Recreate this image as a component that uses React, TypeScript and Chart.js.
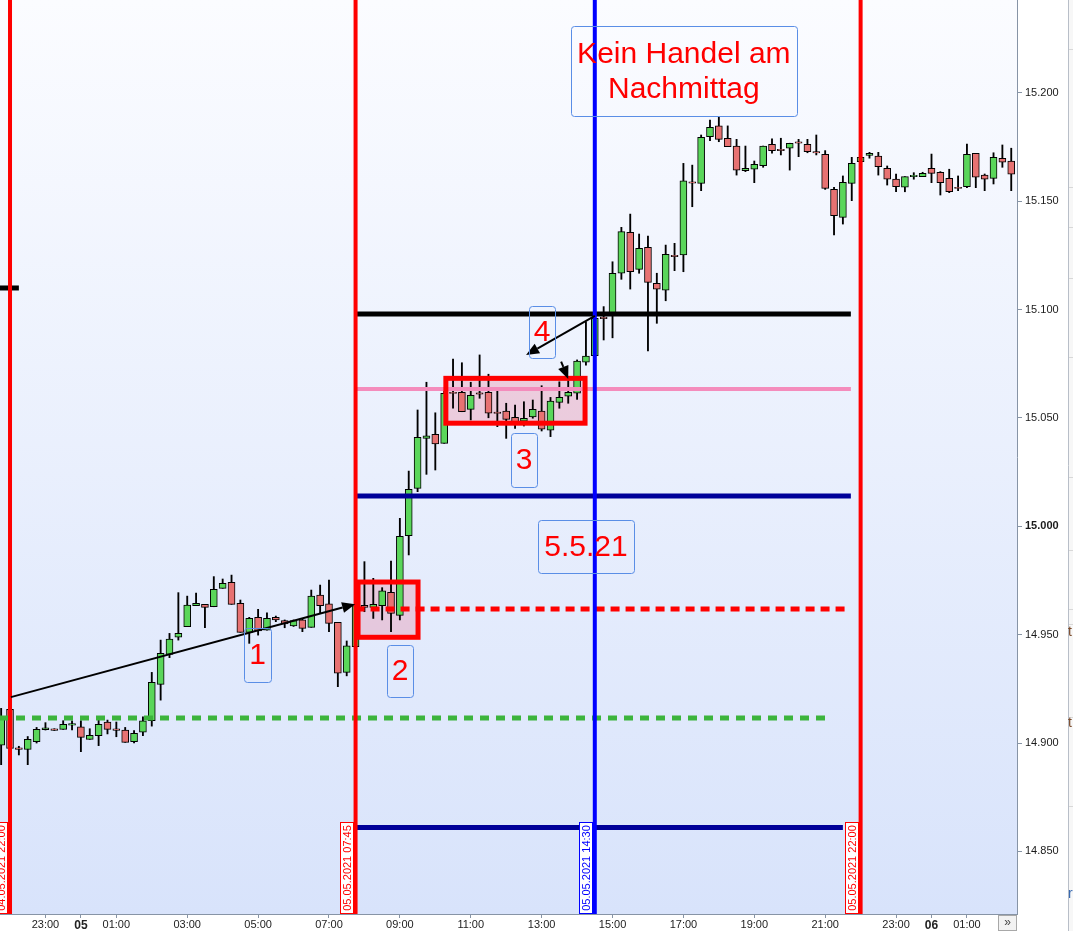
import React, { useEffect, useRef } from 'react';
import { Chart, registerables } from 'chart.js';

Chart.register(...registerables);

// 15-minute bars; bar index 0 = 04.05.2021 22:00, first bar shown is 21:45
const FIRST_BAR = -1;

const opens = [
  14899, 14915.5, 14897.8, 14897, 14900.6, 14906.2, 14906.6, 14906.3, 14908.2, 14907.5,
  14901.7, 14903.4, 14909.7, 14906.6, 14906, 14900.6, 14905, 14910.3, 14927.1, 14940.9,
  14948.8, 14953.7, 14963.4, 14964, 14962.9, 14971.4, 14974.2, 14964.5, 14951.1, 14958,
  14952.1, 14958, 14956.5, 14954, 14956.8, 14953.4, 14968.3, 14964.2, 14955.7, 14932.6,
  14944.5, 14963.6, 14962.6, 14963.4, 14969.6, 14958.9, 14995.7, 15017.5, 15040.6, 15042.5,
  15038.3, 15061.9, 15061.8, 15054, 15061.6, 15061.8, 15052.7, 15053.2, 15050.3, 15048.5,
  15050.5, 15053.2, 15044.4, 15057.2, 15060.1, 15061.4, 15075.8, 15078.8, 15096.6, 15098.3,
  15116.8, 15135.7, 15118.6, 15128.8, 15112.2, 15109, 15125.1, 15125.2, 15159, 15158.3,
  15179.8, 15184.8, 15179.1, 15175.5, 15164.1, 15164.8, 15166.4, 15176.3, 15174, 15174.5,
  15177.4, 15176.3, 15172.9, 15171.7, 15155.5, 15142.6, 15158.3, 15168.3, 15171.2, 15170.9,
  15165.2, 15160.2, 15156.5, 15161.4, 15161.4, 15165.2, 15163.4, 15160.6, 15156.5, 15156.7,
  15172.1, 15162.1, 15160.6, 15169.8, 15168.6,
];

const highs = [
  14916, 14918, 14898.5, 14903, 14907.2, 14909.4, 14906.6, 14910.3, 14910.3, 14910.3,
  14906.6, 14910.6, 14910.6, 14909.7, 14907.2, 14905.7, 14912.1, 14932.6, 14947.5, 14950.6,
  14969.4, 14967.8, 14969.2, 14964, 14976.8, 14975.7, 14977.5, 14966, 14958, 14961.7,
  14960.1, 14958.6, 14956.8, 14956.8, 14957.5, 14970.6, 14972.9, 14975.2, 14955.7, 14947.1,
  14964, 14983.7, 14976, 14971.7, 14984, 15003.7, 15025.5, 15053.7, 15066.5, 15052.4,
  15062.9, 15077.2, 15075.5, 15066.5, 15079.1, 15070.2, 15062.9, 15056.8, 15056, 15057.5,
  15058.3, 15064.9, 15059.5, 15066.7, 15067.2, 15076.8, 15094.4, 15097, 15101.4, 15122.1,
  15138, 15144.1, 15134.9, 15134, 15116.8, 15129.8, 15130.6, 15167.5, 15166.7, 15180.6,
  15187.5, 15189.1, 15184.8, 15178.6, 15175.5, 15168.6, 15175.5, 15178.8, 15179.1, 15176.8,
  15178.6, 15178.6, 15180.6, 15173.4, 15156.5, 15161.7, 15170.3, 15170.9, 15172.6, 15172.6,
  15166.3, 15162.6, 15161.4, 15163.2, 15163.4, 15171.8, 15163.7, 15164.8, 15161.7, 15176.4,
  15172.1, 15162.6, 15172.4, 15176, 15174.5,
];

const lows = [
  14890, 14897, 14894.5, 14890, 14900, 14906, 14905.8, 14906.3, 14906, 14896,
  14901.7, 14898.8, 14904.2, 14902.9, 14900.3, 14900.1, 14903.4, 14907.8, 14919.8, 14939.4,
  14947.5, 14953.7, 14963.4, 14953.2, 14962.9, 14971.4, 14964, 14951.1, 14946, 14949.8,
  14952.1, 14956, 14953.2, 14953.8, 14951.4, 14953.4, 14959.8, 14951.4, 14926, 14931,
  14944.5, 14960.6, 14957.5, 14956.8, 14951.4, 14956.8, 14986.8, 15016, 15024, 15026,
  15038.3, 15054.5, 15052.9, 15049.1, 15059.1, 15050.1, 15046, 15040.6, 15045.2, 15046.3,
  15049.9, 15044, 15041.4, 15054.5, 15056.8, 15058.6, 15074.4, 15078.6, 15086, 15087,
  15114, 15109.5, 15116.8, 15081, 15093.7, 15104.1, 15118, 15117.5, 15147.5, 15154.9,
  15178, 15177.5, 15175.2, 15162.1, 15163.7, 15158.6, 15165.7, 15172.2, 15171.4, 15164.4,
  15170.6, 15172.4, 15171.4, 15155.5, 15134.5, 15139.5, 15150.3, 15168.1, 15169.9, 15162.1,
  15157.5, 15154.4, 15154.4, 15160.2, 15161.4, 15158.6, 15152.9, 15154, 15154.9, 15156.3,
  15156.3, 15154.9, 15158, 15165.7, 15154.9,
];

const closes = [
  14912, 14897.5, 14897, 14901.7, 14906.3, 14907, 14905.8, 14908.6, 14909, 14902.6,
  14903.5, 14908.6, 14906.3, 14905.8, 14900.3, 14904.5, 14910.2, 14928, 14941.4, 14948,
  14950.6, 14963.7, 14964.5, 14962.6, 14970.9, 14973.7, 14964, 14951.1, 14957.5, 14951.7,
  14957.5, 14956.8, 14955, 14956.5, 14952.9, 14967.8, 14963.4, 14955.2, 14932.2, 14944.9,
  14963.4, 14962.6, 14964, 14970.2, 14959.8, 14995.4, 15017.1, 15041.1, 15041.8, 15038,
  15061.4, 15061.3, 15052.9, 15060.5, 15061, 15052.2, 15052.1, 15049.4, 15048.1, 15049.9,
  15054, 15044.8, 15057.8, 15059.5, 15061.8, 15076.3, 15078.6, 15096, 15095.8, 15116.8,
  15136, 15117.5, 15128.3, 15112.6, 15109.4, 15125.5, 15124.5, 15159.4, 15158.4, 15179.5,
  15184.1, 15178.6, 15175.2, 15164.4, 15165.2, 15167.1, 15175.5, 15173.4, 15173.4, 15176.8,
  15176.8, 15172.9, 15172.3, 15156, 15143.4, 15158.8, 15167.5, 15170.3, 15172.1, 15166,
  15160.2, 15156.7, 15161.4, 15162, 15162.9, 15162.9, 15158.6, 15154.4, 15155.9, 15171.7,
  15161.1, 15160.2, 15170.3, 15168.1, 15162.5,
];

const xTickValues = [4, 8, 12, 20, 28, 36, 44, 52, 60, 68, 76, 84, 92, 100, 104, 108];
const xTickLabels = ['23:00', '05', '01:00', '03:00', '05:00', '07:00', '09:00', '11:00', '13:00',
  '15:00', '17:00', '19:00', '21:00', '23:00', '06', '01:00'];
const yTickValues = [14850, 14900, 14950, 15000, 15050, 15100, 15150, 15200];

const X_MIN = -1.13;
const X_MAX = 113.65;
const Y_MIN = 14821.1;
const Y_MAX = 15242.9;

// annotations (in bar-index / price units)
const vLines = [
  { x: 0, color: '#ff0000', label: '04.05.2021 22:00' },
  { x: 39, color: '#ff0000', label: '05.05.2021 07:45' },
  { x: 66, color: '#0000ff', label: '05.05.2021 14:30' },
  { x: 96, color: '#ff0000', label: '05.05.2021 22:00' },
];

const hLines = [
  { y: 15098, x0: 39, x1: 94.9, color: '#000000', width: 5, dash: [] as number[] },
  { y: 15063.4, x0: 39, x1: 94.9, color: '#f48cbc', width: 4, dash: [] as number[] },
  { y: 15014, x0: 39, x1: 94.9, color: '#000099', width: 5, dash: [] as number[] },
  { y: 14861, x0: 39, x1: 94.0, color: '#000099', width: 5, dash: [] as number[] },
  { y: 14961.8, x0: 39, x1: 94.36, color: '#ff0000', width: 5, dash: [9, 6] },
  { y: 14911.5, x0: -1.13, x1: 92.1, color: '#3cb43c', width: 5, dash: [9, 7] },
  { y: 15110, x0: -1.13, x1: 1.0, color: '#000000', width: 5, dash: [] as number[] },
];

const zones = [
  { x0: 39.28, x1: 46.05, y0: 14974.3, y1: 14948.8 },
  { x0: 49.19, x1: 64.9, y0: 15068.3, y1: 15047.6 },
];

const notes = [
  { lines: ['Kein Handel am', 'Nachmittag'], x0: 63.3, x1: 88.8, y0: 15230.9, y1: 15189.4 },
  { lines: ['4'], x0: 58.6, x1: 61.5, y0: 15101.7, y1: 15077.7 },
  { lines: ['3'], x0: 56.55, x1: 59.5, y0: 15043.1, y1: 15018.1 },
  { lines: ['5.5.21'], x0: 59.6, x1: 70.4, y0: 15002.9, y1: 14978.5 },
  { lines: ['1'], x0: 26.4, x1: 29.5, y0: 14953.1, y1: 14928 },
  { lines: ['2'], x0: 42.55, x1: 45.5, y0: 14945.2, y1: 14921.2 },
];

const arrows = [
  { x0: 0.1, y0: 14921.2, x1: 38.95, y1: 14964.1 },
  { x0: 66, y0: 15097.1, x1: 58.24, y1: 15079.1 },
  { x0: 62.2, y0: 15076, x1: 63.0, y1: 15068 },
];

const GREEN = '#5ad65a';
const RED = '#e77272';
const FONT = '"Liberation Sans", Arial, sans-serif';

function drawArrow(ctx: CanvasRenderingContext2D, x0: number, y0: number, x1: number, y1: number) {
  const ang = Math.atan2(y1 - y0, x1 - x0);
  const head = 13;
  const hw = 5.5;
  const bx = x1 - head * Math.cos(ang);
  const by = y1 - head * Math.sin(ang);
  ctx.beginPath();
  ctx.moveTo(x0, y0);
  ctx.lineTo(bx, by);
  ctx.stroke();
  ctx.beginPath();
  ctx.moveTo(x1, y1);
  ctx.lineTo(bx + hw * Math.sin(ang), by - hw * Math.cos(ang));
  ctx.lineTo(bx - hw * Math.sin(ang), by + hw * Math.cos(ang));
  ctx.closePath();
  ctx.fill();
}

const overlay = {
  id: 'overlay',
  beforeDraw(chart: any) {
    const { ctx, chartArea: a, width, height } = chart;
    ctx.save();
    ctx.fillStyle = '#ffffff';
    ctx.fillRect(0, 0, width, height);
    const g = ctx.createLinearGradient(0, a.top, 0, a.bottom);
    g.addColorStop(0, '#fbfcff');
    g.addColorStop(1, '#d8e3fb');
    ctx.fillStyle = g;
    ctx.fillRect(a.left, a.top, a.right - a.left, a.bottom - a.top);
    ctx.restore();
  },
  beforeDatasetsDraw(chart: any) {
    const { ctx } = chart;
    const xs = chart.scales.x;
    const ys = chart.scales.y;
    ctx.save();
    ctx.fillStyle = 'rgba(236, 120, 150, 0.30)';
    for (const r of zones) {
      const x0 = xs.getPixelForValue(r.x0);
      const x1 = xs.getPixelForValue(r.x1);
      const y0 = ys.getPixelForValue(r.y0);
      const y1 = ys.getPixelForValue(r.y1);
      ctx.fillRect(x0, y0, x1 - x0, y1 - y0);
    }
    ctx.restore();
  },
  afterDatasetsDraw(chart: any) {
    const { ctx, chartArea: a } = chart;
    const xs = chart.scales.x;
    const ys = chart.scales.y;
    ctx.save();
    ctx.beginPath();
    ctx.rect(a.left, a.top, a.right - a.left, a.bottom - a.top);
    ctx.clip();

    // horizontal lines
    for (const h of hLines) {
      const y = ys.getPixelForValue(h.y);
      ctx.strokeStyle = h.color;
      ctx.lineWidth = h.width;
      ctx.setLineDash(h.dash);
      ctx.beginPath();
      ctx.moveTo(xs.getPixelForValue(h.x0), y);
      ctx.lineTo(xs.getPixelForValue(h.x1), y);
      ctx.stroke();
    }
    ctx.setLineDash([]);

    // zone borders
    ctx.strokeStyle = '#ff0000';
    ctx.lineWidth = 5;
    for (const r of zones) {
      const x0 = xs.getPixelForValue(r.x0);
      const x1 = xs.getPixelForValue(r.x1);
      const y0 = ys.getPixelForValue(r.y0);
      const y1 = ys.getPixelForValue(r.y1);
      ctx.strokeRect(x0, y0, x1 - x0, y1 - y0);
    }

    // vertical lines
    for (const v of vLines) {
      const x = xs.getPixelForValue(v.x);
      ctx.strokeStyle = v.color;
      ctx.lineWidth = 4;
      ctx.beginPath();
      ctx.moveTo(x, a.top);
      ctx.lineTo(x, a.bottom);
      ctx.stroke();
    }

    // arrows
    ctx.strokeStyle = '#000000';
    ctx.fillStyle = '#000000';
    ctx.lineWidth = 2;
    for (const ar of arrows) {
      drawArrow(ctx, xs.getPixelForValue(ar.x0), ys.getPixelForValue(ar.y0),
        xs.getPixelForValue(ar.x1), ys.getPixelForValue(ar.y1));
    }

    // note boxes
    for (const n of notes) {
      const x0 = xs.getPixelForValue(n.x0);
      const x1 = xs.getPixelForValue(n.x1);
      const y0 = ys.getPixelForValue(n.y0);
      const y1 = ys.getPixelForValue(n.y1);
      ctx.strokeStyle = '#5a8ee6';
      ctx.lineWidth = 1;
      ctx.beginPath();
      (ctx as any).roundRect(Math.round(x0) + 0.5, Math.round(y0) + 0.5, Math.round(x1 - x0), Math.round(y1 - y0), 3);
      ctx.stroke();
      ctx.fillStyle = '#ff0000';
      ctx.font = '30px ' + FONT;
      ctx.textAlign = 'center';
      ctx.textBaseline = 'middle';
      const cx = (x0 + x1) / 2;
      const cy = (y0 + y1) / 2;
      const lh = 35;
      n.lines.forEach((t, k) => {
        ctx.fillText(t, cx, cy + (k - (n.lines.length - 1) / 2) * lh + 1);
      });
    }

    // vertical date labels at the lines' feet
    for (const v of vLines) {
      const x = xs.getPixelForValue(v.x);
      const w = 14;
      const h = 92;
      const bx = Math.round(x - 2 - w);
      const by = a.bottom - h;
      ctx.fillStyle = '#ffffff';
      ctx.fillRect(bx, by, w, h);
      ctx.strokeStyle = v.color;
      ctx.lineWidth = 1;
      ctx.strokeRect(bx + 0.5, by + 0.5, w - 1, h - 1);
      ctx.save();
      ctx.translate(bx + w / 2, by + h / 2);
      ctx.rotate(-Math.PI / 2);
      ctx.fillStyle = v.color;
      ctx.font = '11px ' + FONT;
      ctx.textAlign = 'center';
      ctx.textBaseline = 'middle';
      ctx.fillText(v.label, 0, 1);
      ctx.restore();
    }
    ctx.restore();
  },
  afterDraw(chart: any) {
    const { ctx, width, height, chartArea: a } = chart;
    ctx.save();
    // neighbouring panel edge on the right
    ctx.fillStyle = '#f7f7f7';
    ctx.fillRect(1068, 0, width - 1068, height);
    ctx.strokeStyle = '#b8bec8';
    ctx.lineWidth = 1;
    ctx.beginPath();
    ctx.moveTo(1068.5, 0);
    ctx.lineTo(1068.5, height);
    ctx.stroke();
    ctx.strokeStyle = '#d8d8d8';
    [49, 187, 227, 278, 357, 477, 550, 609, 624, 717, 806].forEach((yy) => {
      ctx.beginPath();
      ctx.moveTo(1069, yy + 0.5);
      ctx.lineTo(width, yy + 0.5);
      ctx.stroke();
    });
    ctx.fillStyle = '#7a4a2a';
    ctx.font = '14px ' + FONT;
    ctx.textBaseline = 'middle';
    ctx.textAlign = 'left';
    ctx.fillText('t', 1068, 632);
    ctx.fillText('t', 1068, 723);
    ctx.fillStyle = '#3a6ab0';
    ctx.fillText('r', 1068, 894);
    // scroll button
    ctx.fillStyle = '#f2f2f2';
    ctx.fillRect(998, a.bottom + 1, 19, height - a.bottom - 1);
    ctx.strokeStyle = '#a8a8a8';
    ctx.strokeRect(998.5, a.bottom + 1.5, 18, height - a.bottom - 2);
    ctx.fillStyle = '#444';
    ctx.font = '12px ' + FONT;
    ctx.textAlign = 'center';
    ctx.fillText('»', 1007.5, a.bottom + 9);
    ctx.restore();
  },
};

export default function App() {
  const ref = useRef<HTMLCanvasElement>(null);

  useEffect(() => {
    document.body.style.margin = '0';
    const canvas = ref.current;
    if (!canvas) return;

    const xVals = opens.map((_, k) => k + FIRST_BAR);
    const bodyData = xVals.map((x, k) => ({ x, y: [opens[k], closes[k]] }));
    const wickData = xVals.map((x, k) => ({ x, y: [lows[k], highs[k]] }));
    const bodyColors = closes.map((c, k) => (c >= opens[k] ? GREEN : RED));

    const chart = new Chart(canvas, {
      type: 'bar',
      data: {
        datasets: [
          {
            data: bodyData as any,
            backgroundColor: bodyColors,
            borderColor: '#000000',
            borderWidth: 1,
            borderSkipped: false,
            barThickness: 7,
            grouped: false,
            order: 0,
          } as any,
          {
            data: wickData as any,
            backgroundColor: '#000000',
            borderWidth: 0,
            barThickness: 1.2,
            grouped: false,
            order: 1,
          } as any,
        ],
      },
      options: {
        animation: false,
        responsive: false,
        maintainAspectRatio: false,
        events: [],
        layout: { padding: 0 },
        plugins: { legend: { display: false }, tooltip: { enabled: false } },
        scales: {
          x: {
            type: 'linear',
            min: X_MIN,
            max: X_MAX,
            offset: false,
            grid: { offset: false, drawOnChartArea: false, drawTicks: true, tickLength: 4, color: '#8794a6' },
            border: { display: true, color: '#8794a6' },
            ticks: {
              autoSkip: false,
              maxRotation: 0,
              padding: 0,
              color: '#222222',
              font: (ctx: any) => {
                const lbl = xTickLabels[ctx.index];
                const bold = lbl === '05' || lbl === '06';
                return { family: FONT, size: bold ? 12 : 11, weight: bold ? 'bold' : 'normal' };
              },
              callback: (_v: any, i: number) => xTickLabels[i],
            },
            afterBuildTicks: (s: any) => {
              s.ticks = xTickValues.map((v) => ({ value: v }));
            },
            afterFit: (s: any) => {
              s.height = 17;
              s.paddingLeft = 0;
              s.paddingRight = 0;
            },
          } as any,
          y: {
            type: 'linear',
            position: 'right',
            min: Y_MIN,
            max: Y_MAX,
            grid: { offset: false, drawOnChartArea: false, drawTicks: true, tickLength: 5, color: '#8794a6' },
            border: { display: true, color: '#8794a6' },
            ticks: {
              padding: 3,
              color: '#1a1a1a',
              font: (ctx: any) => ({
                family: FONT,
                size: 11,
                weight: ctx.tick && ctx.tick.value === 15000 ? 'bold' : 'normal',
              }),
              callback: (v: any) => (Number(v) / 1000).toFixed(3),
            },
            afterBuildTicks: (s: any) => {
              s.ticks = yTickValues.map((v) => ({ value: v }));
            },
            afterFit: (s: any) => {
              s.width = 56;
              s.paddingTop = 0;
              s.paddingBottom = 0;
            },
          } as any,
        },
      },
      plugins: [overlay as any],
    });

    return () => chart.destroy();
  }, []);

  return (
    <canvas
      ref={ref}
      width={1073}
      height={931}
      style={{ display: 'block', width: 1073, height: 931 }}
    />
  );
}
